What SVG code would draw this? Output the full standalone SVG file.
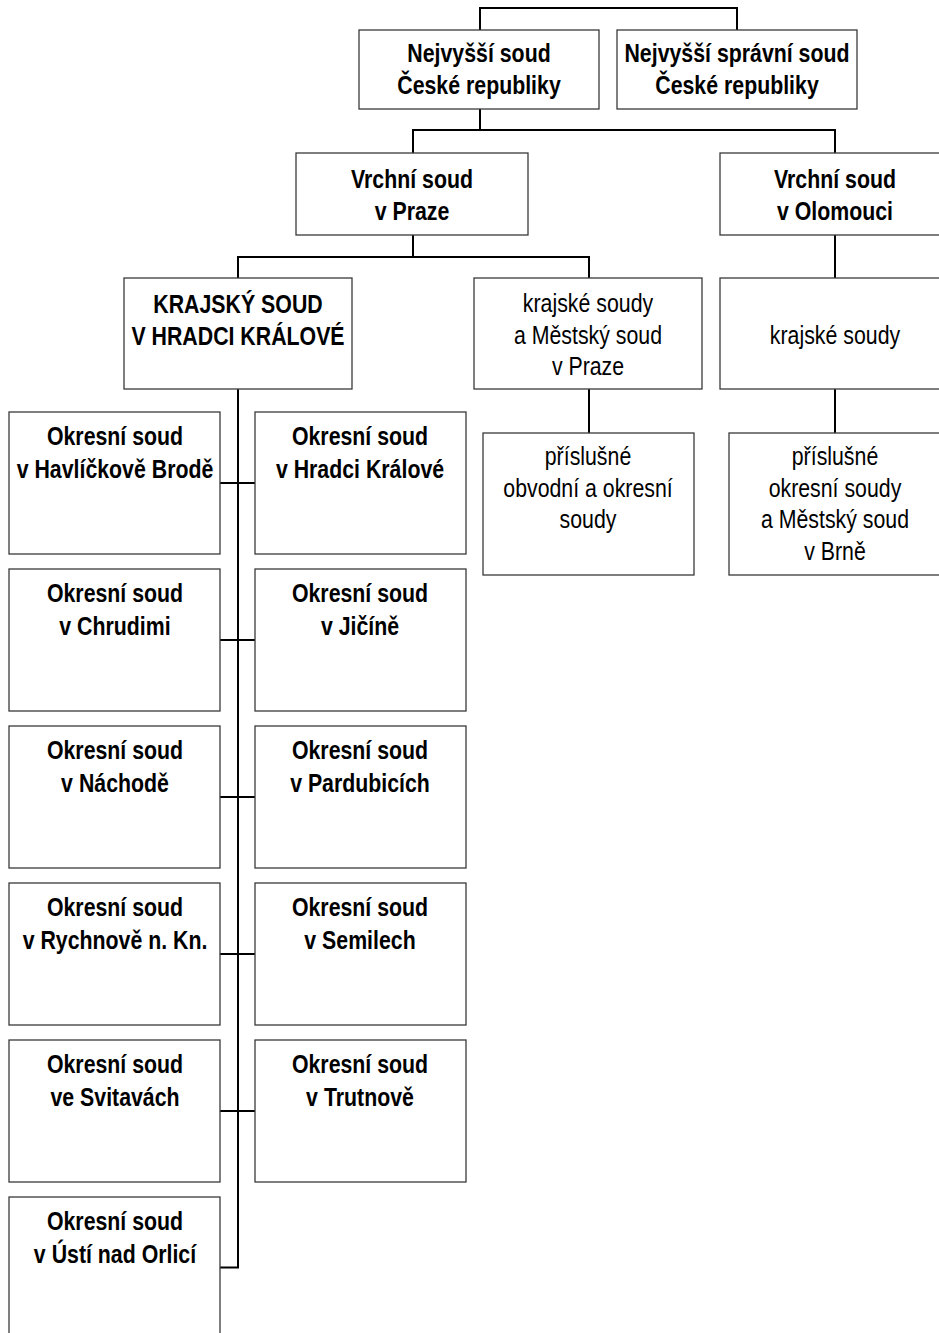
<svg xmlns="http://www.w3.org/2000/svg" width="939" height="1333" viewBox="0 0 939 1333">
<style>
.box{fill:#fff;stroke:#3a3a3a;stroke-width:1.3}
.con{fill:none;stroke:#000;stroke-width:2}
.b{font-family:"Liberation Sans",Arial,sans-serif;font-weight:bold;font-size:26px;text-anchor:middle;fill:#000}
.n{font-family:"Liberation Sans",Arial,sans-serif;font-size:26px;text-anchor:middle;fill:#000}
</style>
<rect width="939" height="1333" fill="#fff"/>
<g id="connectors">
<path class="con" d="M480,30 V8 H737 V30"/>
<path class="con" d="M480,109 V130 M413,153 V130 H835 V153"/>
<path class="con" d="M413,235 V257 M238,278 V257 H589 V278"/>
<path class="con" d="M835,235 V278"/>
<path class="con" d="M589,389 V433"/>
<path class="con" d="M835,389 V433"/>
<path class="con" d="M238,389 V1267.5 H220"/>
<path class="con" d="M220,483 H255 M220,640 H255 M220,797 H255 M220,954 H255 M220,1111 H255"/>
</g>
<g id="ns">
<rect class="box" x="359" y="30" width="240" height="79"/>
<text class="b" transform="translate(479,62) scale(0.82 1)">Nejvyšší soud</text>
<text class="b" transform="translate(479,94) scale(0.82 1)">České republiky</text>
</g>
<g id="nss">
<rect class="box" x="617" y="30" width="240" height="79"/>
<text class="b" transform="translate(737,62) scale(0.82 1)">Nejvyšší správní soud</text>
<text class="b" transform="translate(737,94) scale(0.82 1)">České republiky</text>
</g>
<g id="vs-praha">
<rect class="box" x="296" y="153" width="232" height="82"/>
<text class="b" transform="translate(412,188) scale(0.82 1)">Vrchní soud</text>
<text class="b" transform="translate(412,220) scale(0.82 1)">v Praze</text>
</g>
<g id="vs-olomouc">
<rect class="box" x="720" y="153" width="232" height="82"/>
<text class="b" transform="translate(835,188) scale(0.82 1)">Vrchní soud</text>
<text class="b" transform="translate(835,220) scale(0.82 1)">v Olomouci</text>
</g>
<g id="ks-hk">
<rect class="box" x="124" y="278" width="228" height="111"/>
<text class="b" transform="translate(238,313) scale(0.82 1)">KRAJSKÝ SOUD</text>
<text class="b" transform="translate(238,345) scale(0.82 1)">V HRADCI KRÁLOVÉ</text>
</g>
<g id="ks-praha">
<rect class="box" x="474" y="278" width="228" height="111"/>
<text class="n" transform="translate(588,312) scale(0.82 1)">krajské soudy</text>
<text class="n" transform="translate(588,343.5) scale(0.82 1)">a Městský soud</text>
<text class="n" transform="translate(588,375) scale(0.82 1)">v Praze</text>
</g>
<g id="ks-olomouc">
<rect class="box" x="720" y="278" width="230" height="111"/>
<text class="n" transform="translate(835,343.5) scale(0.82 1)">krajské soudy</text>
</g>
<g id="os-praha">
<rect class="box" x="483" y="433" width="211" height="142"/>
<text class="n" transform="translate(588,465) scale(0.82 1)">příslušné</text>
<text class="n" transform="translate(588,497) scale(0.82 1)">obvodní a okresní</text>
<text class="n" transform="translate(588,528) scale(0.82 1)">soudy</text>
</g>
<g id="os-brno">
<rect class="box" x="729" y="433" width="212" height="142"/>
<text class="n" transform="translate(835,465) scale(0.82 1)">příslušné</text>
<text class="n" transform="translate(835,497) scale(0.82 1)">okresní soudy</text>
<text class="n" transform="translate(835,528) scale(0.82 1)">a Městský soud</text>
<text class="n" transform="translate(835,560) scale(0.82 1)">v Brně</text>
</g>
<g id="os-hb">
<rect class="box" x="9" y="412" width="211" height="142"/>
<text class="b" transform="translate(115,445) scale(0.82 1)">Okresní soud</text>
<text class="b" transform="translate(115,478) scale(0.82 1)">v Havlíčkově Brodě</text>
</g>
<g id="os-hk">
<rect class="box" x="255" y="412" width="211" height="142"/>
<text class="b" transform="translate(360,445) scale(0.82 1)">Okresní soud</text>
<text class="b" transform="translate(360,478) scale(0.82 1)">v Hradci Králové</text>
</g>
<g id="os-chrudim">
<rect class="box" x="9" y="569" width="211" height="142"/>
<text class="b" transform="translate(115,602) scale(0.82 1)">Okresní soud</text>
<text class="b" transform="translate(115,635) scale(0.82 1)">v Chrudimi</text>
</g>
<g id="os-jicin">
<rect class="box" x="255" y="569" width="211" height="142"/>
<text class="b" transform="translate(360,602) scale(0.82 1)">Okresní soud</text>
<text class="b" transform="translate(360,635) scale(0.82 1)">v Jičíně</text>
</g>
<g id="os-nachod">
<rect class="box" x="9" y="726" width="211" height="142"/>
<text class="b" transform="translate(115,759) scale(0.82 1)">Okresní soud</text>
<text class="b" transform="translate(115,792) scale(0.82 1)">v Náchodě</text>
</g>
<g id="os-pardubice">
<rect class="box" x="255" y="726" width="211" height="142"/>
<text class="b" transform="translate(360,759) scale(0.82 1)">Okresní soud</text>
<text class="b" transform="translate(360,792) scale(0.82 1)">v Pardubicích</text>
</g>
<g id="os-rychnov">
<rect class="box" x="9" y="883" width="211" height="142"/>
<text class="b" transform="translate(115,916) scale(0.82 1)">Okresní soud</text>
<text class="b" transform="translate(115,949) scale(0.82 1)">v Rychnově n. Kn.</text>
</g>
<g id="os-semily">
<rect class="box" x="255" y="883" width="211" height="142"/>
<text class="b" transform="translate(360,916) scale(0.82 1)">Okresní soud</text>
<text class="b" transform="translate(360,949) scale(0.82 1)">v Semilech</text>
</g>
<g id="os-svitavy">
<rect class="box" x="9" y="1040" width="211" height="142"/>
<text class="b" transform="translate(115,1073) scale(0.82 1)">Okresní soud</text>
<text class="b" transform="translate(115,1106) scale(0.82 1)">ve Svitavách</text>
</g>
<g id="os-trutnov">
<rect class="box" x="255" y="1040" width="211" height="142"/>
<text class="b" transform="translate(360,1073) scale(0.82 1)">Okresní soud</text>
<text class="b" transform="translate(360,1106) scale(0.82 1)">v Trutnově</text>
</g>
<g id="os-usti">
<rect class="box" x="9" y="1197" width="211" height="142"/>
<text class="b" transform="translate(115,1230) scale(0.82 1)">Okresní soud</text>
<text class="b" transform="translate(115,1263) scale(0.82 1)">v Ústí nad Orlicí</text>
</g>
</svg>
